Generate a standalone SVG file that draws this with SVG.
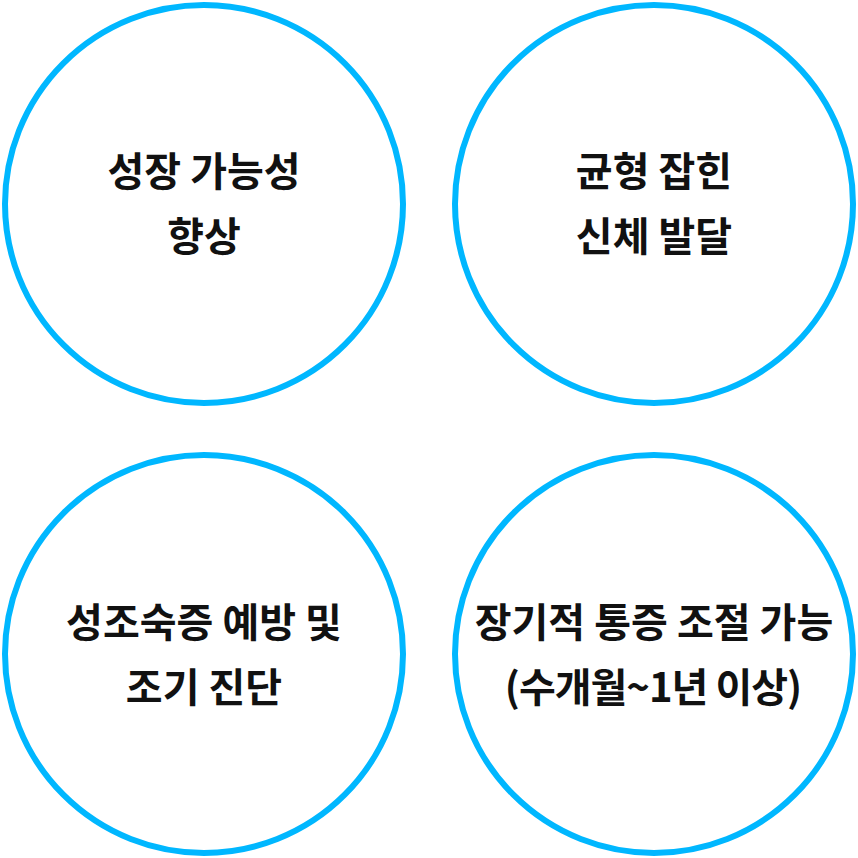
<svg xmlns="http://www.w3.org/2000/svg" width="858" height="858" viewBox="0 0 858 858">
<style>
.c{fill:#fff;stroke:#00b7ff;stroke-width:6}
.t{font-family:"Noto Sans CJK KR","Noto Sans",sans-serif;font-size:40px;font-weight:700;fill:#111;text-anchor:middle}
</style>
<rect width="858" height="858" fill="#fff"/>
<g id="node1"><circle class="c" cx="204" cy="204" r="199"/><text class="t" x="204" y="186">성장 가능성</text><text class="t" x="204" y="251">향상</text></g>
<g id="node2"><circle class="c" cx="654" cy="204" r="199"/><text class="t" x="654" y="186">균형 잡힌</text><text class="t" x="654" y="251">신체 발달</text></g>
<g id="node3"><circle class="c" cx="204" cy="654" r="199"/><text class="t" x="204" y="637">성조숙증 예방 및</text><text class="t" x="204" y="702">조기 진단</text></g>
<g id="node4"><circle class="c" cx="654" cy="654" r="199"/><text class="t" x="654" y="637">장기적 통증 조절 가능</text><text class="t" x="653" y="702" letter-spacing="-1">(수개월~1년 이상)</text></g>
<g id="connectors"></g>
</svg>
